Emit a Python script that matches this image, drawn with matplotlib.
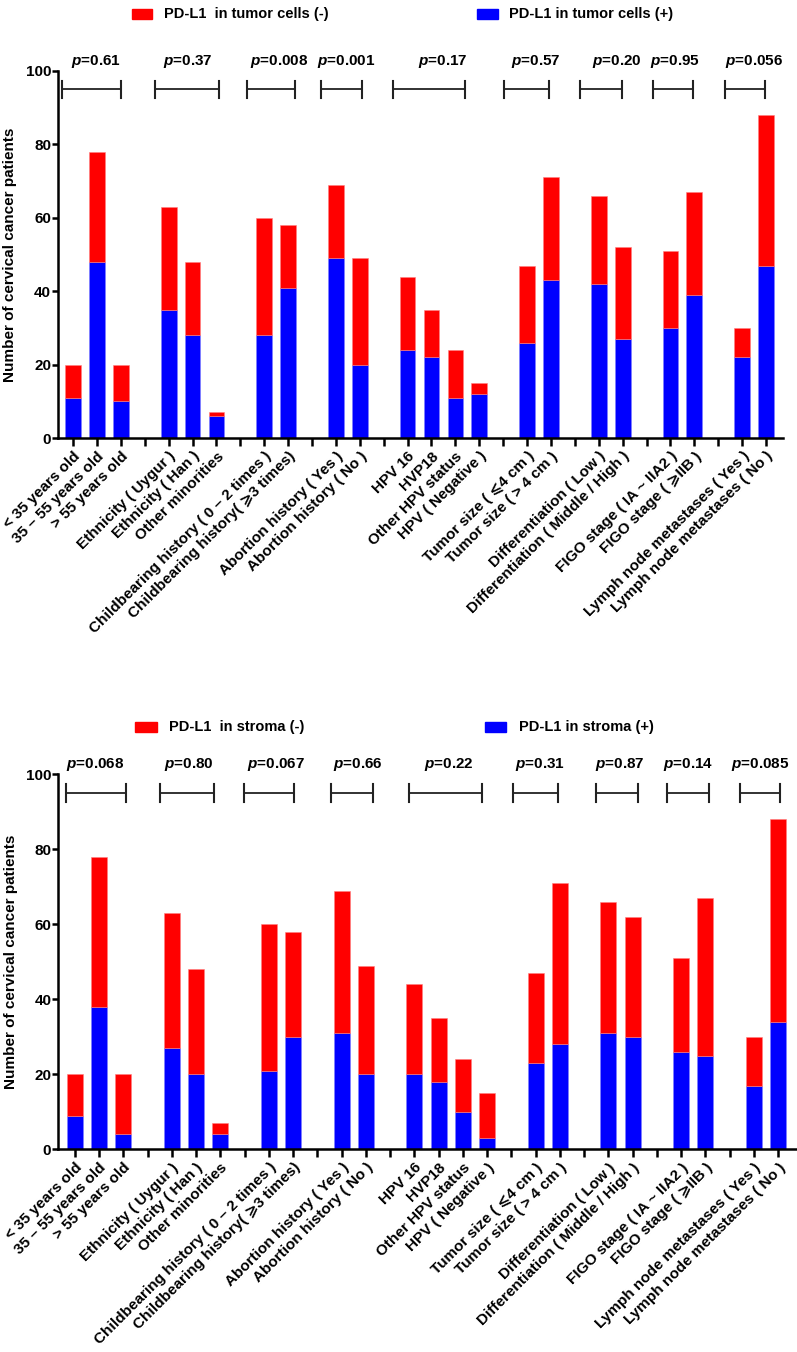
import matplotlib
matplotlib.use("Agg")
import matplotlib.pyplot as plt
import numpy as np

plt.rcParams['font.family'] = ['Liberation Sans', 'DejaVu Sans']
plt.rcParams['font.weight'] = 'bold'
plt.rcParams['mathtext.fontset'] = 'custom'
plt.rcParams['mathtext.it'] = 'Liberation Sans:italic:bold'
plt.rcParams['mathtext.rm'] = 'Liberation Sans:bold'

# categories, one per slot; '' marks a gap between groups
labels = ["< 35 years old", "35 \u2013 55 years old", "> 55 years old", "",
          "Ethnicity ( Uygur )", "Ethnicity ( Han )", "Other minorities", "",
          "Childbearing history ( 0 \u2013 2 times )", "Childbearing history( \u2a7e3 times)", "",
          "Abortion history ( Yes )", "Abortion history ( No )", "",
          "HPV 16", "HVP18", "Other HPV status", "HPV ( Negative )", "",
          "Tumor size ( \u2a7d4 cm )", "Tumor size ( > 4 cm )", "",
          "Differentiation ( Low )", "Differentiation ( Middle / High )", "",
          "FIGO stage ( IA ~ IIA2 )", "FIGO stage ( \u2a7eIIB )", "",
          "Lymph node metastases ( Yes )", "Lymph node metastases ( No )"]

# totals per category
totals = [20, 78, 20, 63, 48, 7, 60, 58, 69, 49, 44, 35, 24, 15,
          47, 71, 66, 52, 51, 67, 30, 88]
totals_stroma = [20, 78, 20, 63, 48, 7, 60, 58, 69, 49, 44, 35, 24, 15,
                 47, 71, 66, 62, 51, 67, 30, 88]

# PD-L1 positive counts
tumor_pos = [11, 48, 10, 35, 28, 6, 28, 41, 49, 20, 24, 22, 11, 12,
             26, 43, 42, 27, 30, 39, 22, 47]
stroma_pos = [9, 38, 4, 27, 20, 4, 21, 30, 31, 20, 20, 18, 10, 3,
              23, 28, 31, 30, 26, 25, 17, 34]

p_tumor = ["0.61", "0.37", "0.008", "0.001", "0.17", "0.57", "0.20", "0.95", "0.056"]
p_stroma = ["0.068", "0.80", "0.067", "0.66", "0.22", "0.31", "0.87", "0.14", "0.085"]

# bracket extents (slot units) and p-label centres
br_tumor = [(-0.46, 2.0), (3.43, 6.1), (7.27, 9.29), (10.36, 12.1), (13.4, 16.4),
            (18.05, 19.9), (21.2, 22.97), (24.28, 25.95), (27.3, 28.95)]
px_tumor = [0.96, 4.8, 8.64, 11.42, 15.48, 19.37, 22.76, 25.19, 28.49]
br_stroma = [(-0.37, 2.11), (3.53, 5.73), (6.97, 9.04), (10.55, 12.31), (13.79, 16.78),
             (18.07, 19.91), (21.48, 23.21), (24.44, 26.15), (27.41, 29.06)]
px_stroma = [0.84, 4.71, 8.29, 11.69, 15.44, 19.16, 22.49, 25.3, 28.28]

slots = np.arange(len(labels))
bar_x = np.array([i for i, l in enumerate(labels) if l != ""])

W, H = 797, 1352
fig = plt.figure(figsize=(W / 100, H / 100), dpi=100)


def panel(rect, xlim, tot, pos, brackets, pxs, pvals, leg_y, leg_pos, leg_txt):
    ax = fig.add_axes(rect)
    neg = np.array(tot) - np.array(pos)
    ax.bar(bar_x, pos, width=0.66, color='#0000FF', edgecolor='#8080FF', linewidth=0.4)
    ax.bar(bar_x, neg, bottom=pos, width=0.66, color='#FF0000', edgecolor='#FF8080', linewidth=0.4)
    ax.set_xlim(*xlim)
    ax.set_ylim(0, 100)
    ax.set_yticks([0, 20, 40, 60, 80, 100])
    ax.set_xticks(slots)
    ax.set_xticklabels(labels, rotation=45, ha='right', rotation_mode='anchor',
                       fontsize=11, fontweight='bold')
    for t in ax.get_yticklabels():
        t.set_fontsize(11)
        t.set_fontweight('bold')
    ax.spines['top'].set_visible(False)
    ax.spines['right'].set_visible(False)
    ax.spines['left'].set_linewidth(1.8)
    ax.spines['bottom'].set_linewidth(1.8)
    ax.tick_params(axis='y', length=4, width=1.8, pad=1)
    ax.tick_params(axis='x', length=6, width=1.8, pad=2)
    ax.set_ylabel("Number of cervical cancer patients", fontsize=11,
                  fontweight='bold', labelpad=6)

    for (x0, x1), xp, pv in zip(brackets, pxs, pvals):
        ax.plot([x0, x1], [95, 95], color='#222222', lw=1.3, clip_on=False)
        ax.plot([x0, x0], [92.7, 97.3], color='#222222', lw=1.5, clip_on=False)
        ax.plot([x1, x1], [92.7, 97.3], color='#222222', lw=1.5, clip_on=False)
        ax.text(xp, 102.5, r"$\mathit{p}$=" + pv, ha='center', va='center',
                fontsize=11, fontweight='bold', clip_on=False)

    # legend drawn by hand at fixed figure positions
    for (x0, x1, xt), txt, col in zip(leg_pos, leg_txt, ['#FF0000', '#0000FF']):
        fig.patches.append(plt.Rectangle((x0 / W, 1 - (leg_y + 5) / H), (x1 - x0) / W, 10 / H,
                                         transform=fig.transFigure, color=col))
        fig.text(xt / W, 1 - leg_y / H, txt, ha='left', va='center',
                 fontsize=10.5, fontweight='bold')
    return ax


panel([58 / W, 1 - 438 / H, 725 / W, 367 / H], (-0.63, 29.71),
      totals, tumor_pos, br_tumor, px_tumor, p_tumor, 14,
      [(132, 152, 164), (477, 498, 509)],
      ["PD-L1  in tumor cells (-)", "PD-L1 in tumor cells (+)"])

panel([58.3 / W, 1 - 1149.3 / H, 738.7 / W, 375 / H], (-0.68, 29.78),
      totals_stroma, stroma_pos, br_stroma, px_stroma, p_stroma, 727,
      [(135, 157, 169), (485, 506, 519)],
      ["PD-L1  in stroma (-)", "PD-L1 in stroma (+)"])

fig.savefig("out.png", dpi=100)
